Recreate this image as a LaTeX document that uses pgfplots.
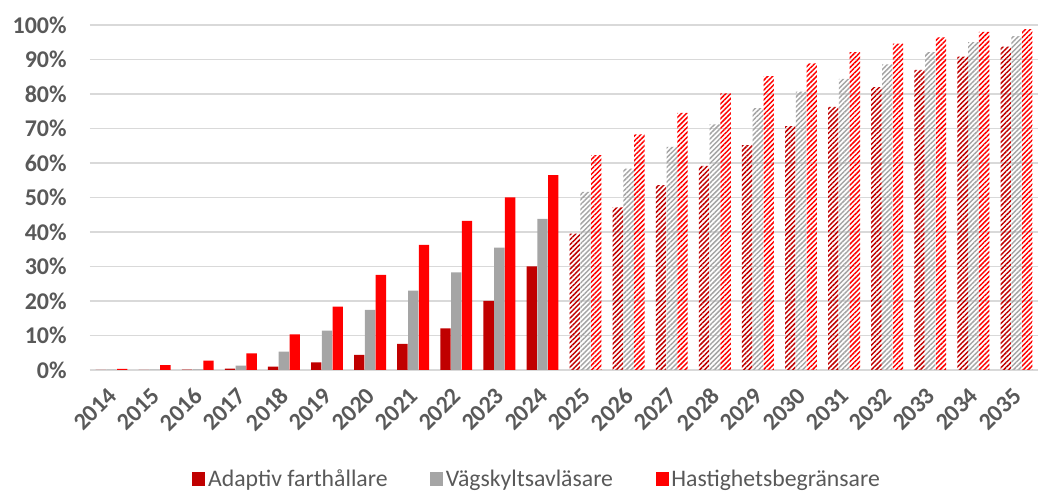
\documentclass[border=0pt]{standalone}
\usepackage{fontspec}
\setmainfont{Carlito}
\usepackage{pgfplots}
\usepackage{pgfplotstable}
\pgfplotsset{compat=1.18}
\usetikzlibrary{patterns.meta}

\definecolor{darkred}{HTML}{C00000}
\definecolor{midgray}{HTML}{A5A5A5}
\definecolor{brightred}{HTML}{FF0000}
\definecolor{txtgray}{HTML}{595959}
\definecolor{gridgray}{HTML}{D9D9D9}

% 2014-2024 (x = 0..10)
\pgfplotstableread{
x  a     b     c
0  0     0.1   0.3
1  0     0.1   1.4
2  0.1   0.2   2.7
3  0.4   1.3   4.8
4  1.0   5.3   10.3
5  2.2   11.4  18.4
6  4.4   17.4  27.6
7  7.6   23.0  36.3
8  12.1  28.3  43.2
9  20.0  35.5  50.0
10 30.0  43.8  56.5
}\solid

% 2025-2035 (prognosis, hatched)
\pgfplotstableread{
x  a     b     c
11 39.5  51.6  62.3
12 47.1  58.4  68.3
13 53.6  64.7  74.5
14 59.2  71.2  80.2
15 65.2  75.9  85.2
16 70.7  80.7  88.9
17 76.3  84.4  92.1
18 82.0  88.6  94.6
19 87.0  92.1  96.4
20 90.8  95.0  98.0
21 93.7  96.8  98.8
}\future

\tikzset{hatch/.style={draw=none, pattern={Lines[angle=45,distance=2.6pt,line width=1.1pt]}, pattern color=#1}}

\begin{document}
\begin{tikzpicture}
\begin{axis}[
    name=ax,
    scale only axis,
    width=711pt, height=258.75pt,
    xmin=-0.5, xmax=21.5,
    ymin=0, ymax=100,
    ybar, bar width=0.24,
    xtick={0,...,21},
    xticklabels={2014,2015,2016,2017,2018,2019,2020,2021,2022,2023,2024,2025,2026,2027,2028,2029,2030,2031,2032,2033,2034,2035},
    ytick={0,10,...,100},
    yticklabels={0\%,10\%,20\%,30\%,40\%,50\%,60\%,70\%,80\%,90\%,100\%},
    ymajorgrids,
    grid style={gridgray, line width=1pt},
    axis x line*=bottom, axis y line*=left,
    x axis line style={gridgray, line width=1pt, -},
    y axis line style={draw=none},
    major tick length=0pt,
    tick label style={font=\fontsize{18}{20}\selectfont\bfseries, text=txtgray},
    yticklabel style={xshift=-14pt},
    xticklabel style={yshift=-14pt, xshift=3pt, rotate=45, anchor=east},
    legend columns=3,
    legend style={draw=none, at={(0.472,-0.316)}, anchor=center,
        font=\fontsize{17.8}{20}\selectfont, text=txtgray,
        /tikz/every even column/.append style={column sep=30pt}},
    legend image code/.code={\fill[#1] (0pt,-4.9pt) rectangle (9.75pt,4.9pt);},
]
\addplot[fill=darkred, draw=none, bar shift=-0.25] table[x=x,y=a]{\solid};
\addlegendentry{Adaptiv farthållare}
\addplot[fill=midgray, draw=none, bar shift=0] table[x=x,y=b]{\solid};
\addlegendentry{Vägskyltsavläsare}
\addplot[fill=brightred, draw=none, bar shift=0.25] table[x=x,y=c]{\solid};
\addlegendentry{Hastighetsbegränsare}

\addplot[forget plot, hatch=darkred, bar shift=-0.25] table[x=x,y=a]{\future};
\addplot[forget plot, hatch=midgray, bar shift=0] table[x=x,y=b]{\future};
\addplot[forget plot, hatch=brightred, bar shift=0.25] table[x=x,y=c]{\future};
\end{axis}
\pgfresetboundingbox
\path ([shift={(-67.5pt,-90.75pt)}]ax.south west) rectangle ([shift={(0pt,18.75pt)}]ax.north east);
\end{tikzpicture}
\end{document}
